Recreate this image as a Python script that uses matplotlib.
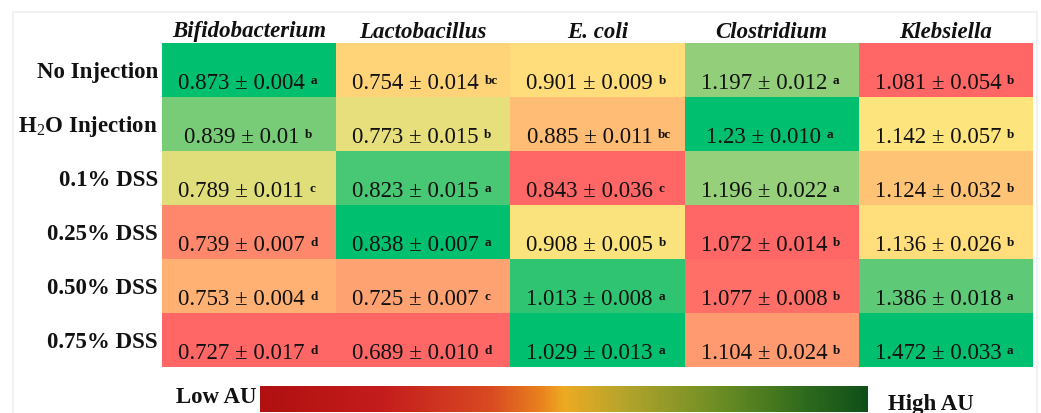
import numpy as np
import matplotlib.pyplot as plt
from matplotlib.colors import LinearSegmentedColormap, TwoSlopeNorm, Normalize
from matplotlib.cm import ScalarMappable
from matplotlib.patches import Rectangle

bacteria = ["Bifidobacterium", "Lactobacillus", "E. coli", "Clostridium", "Klebsiella"]
groups = ["No Injection", "H$_2$O Injection", "0.1% DSS", "0.25% DSS", "0.50% DSS", "0.75% DSS"]

means = np.array([
    [0.873, 0.754, 0.901, 1.197, 1.081],
    [0.839, 0.773, 0.885, 1.23, 1.142],
    [0.789, 0.823, 0.843, 1.196, 1.124],
    [0.739, 0.838, 0.908, 1.072, 1.136],
    [0.753, 0.725, 1.013, 1.077, 1.386],
    [0.727, 0.689, 1.029, 1.104, 1.472],
])
mean_labels = [
    ["0.873", "0.754", "0.901", "1.197", "1.081"],
    ["0.839", "0.773", "0.885", "1.23", "1.142"],
    ["0.789", "0.823", "0.843", "1.196", "1.124"],
    ["0.739", "0.838", "0.908", "1.072", "1.136"],
    ["0.753", "0.725", "1.013", "1.077", "1.386"],
    ["0.727", "0.689", "1.029", "1.104", "1.472"],
]
sd_labels = [
    ["0.004", "0.014", "0.009", "0.012", "0.054"],
    ["0.01", "0.015", "0.011", "0.010", "0.057"],
    ["0.011", "0.015", "0.036", "0.022", "0.032"],
    ["0.007", "0.007", "0.005", "0.014", "0.026"],
    ["0.004", "0.007", "0.008", "0.008", "0.018"],
    ["0.017", "0.010", "0.013", "0.024", "0.033"],
]
letters = [
    ["a", "bc", "b", "a", "b"],
    ["b", "b", "bc", "a", "b"],
    ["c", "a", "c", "a", "b"],
    ["d", "a", "b", "b", "b"],
    ["d", "c", "a", "b", "a"],
    ["d", "d", "a", "b", "a"],
]

SERIF = ["Liberation Serif", "DejaVu Serif"]
plt.rcParams["font.family"] = SERIF
plt.rcParams["mathtext.fontset"] = "custom"
plt.rcParams["mathtext.rm"] = "Liberation Serif"
plt.rcParams["mathtext.bf"] = "Liberation Serif:bold"

W, H = 1041, 414
fig = plt.figure(figsize=(W / 100, H / 100), dpi=100)

## faint frame around the whole figure
fig.patches.append(Rectangle((13 / W, -0.1), (1037 - 13) / W, 1.1 - 13 / H,
                             transform=fig.transFigure, fill=False,
                             edgecolor="#EFEFEF", linewidth=1.2))

# heat colours: red -> yellow -> green, scaled per column around the median
heat = LinearSegmentedColormap.from_list(
    "heat", [(0.0, "#FF6666"), (0.5, "#FFE47C"), (0.8, "#92CF7A"), (1.0, "#00BF6F")])

ax = fig.add_axes([162 / W, 1 - 368 / H, (1033 - 162) / W, (368 - 44) / H])
nrow, ncol = means.shape
for j in range(ncol):
    col = means[:, j]
    norm = TwoSlopeNorm(vmin=col.min(), vcenter=np.median(col), vmax=col.max())
    ax.pcolormesh([j, j + 1], np.arange(nrow + 1), col.reshape(-1, 1),
                  cmap=heat, norm=norm, shading="flat", antialiased=False)

ax.set_xlim(0, ncol)
ax.set_ylim(nrow, 0)
ax.axis("off")

for i in range(nrow):
    for j in range(ncol):
        t = ax.text(j + 0.5 - 0.045, i + 0.73, f"{mean_labels[i][j]} ± {sd_labels[i][j]}",
                    ha="center", va="center", fontsize=16.5, color="#111111")
        ax.annotate(letters[i][j], xy=(1, 0.62), xycoords=t, xytext=(4, 0),
                    textcoords="offset points", ha="left", va="center",
                    fontsize=9.5, fontweight="bold", color="#111111")

# column headers
for j, name in enumerate(bacteria):
    fig.text((162 + (j + 0.5) * (1033 - 162) / ncol) / W, 1 - 32 / H, name,
             ha="center", va="center", fontsize=16.5, style="italic",
             fontweight="bold", color="#111111")

# row labels
for i, g in enumerate(groups):
    fig.text(158 / W, 1 - (44 + (i + 0.52) * (368 - 44) / nrow) / H, g,
             ha="right", va="center", fontsize=16.5, fontweight="bold", color="#111111")

## colour bar underneath
bar_cmap = LinearSegmentedColormap.from_list("bar", [
    (0.0, "#B01010"), (0.2, "#C41C1C"), (0.38, "#D84A22"), (0.46, "#E8801E"),
    (0.5, "#EDAA22"), (0.6, "#B4A42C"), (0.75, "#6E8E24"), (0.9, "#2E6A1C"),
    (1.0, "#0F4F18")])
cax = fig.add_axes([260 / W, 1 - 413 / H, (868 - 260) / W, (413 - 387) / H])
cb = fig.colorbar(ScalarMappable(norm=Normalize(0, 1), cmap=bar_cmap), cax=cax,
                  orientation="horizontal")
cb.set_ticks([])
cb.outline.set_visible(False)

fig.text(257 / W, 1 - 398 / H, "Low AU", ha="right", va="center",
         fontsize=16.5, fontweight="bold", color="#111111")
fig.text(888 / W, 1 - 405 / H, "High AU", ha="left", va="center",
         fontsize=16.5, fontweight="bold", color="#111111")

fig.savefig("out.png", dpi=100, facecolor="white")
